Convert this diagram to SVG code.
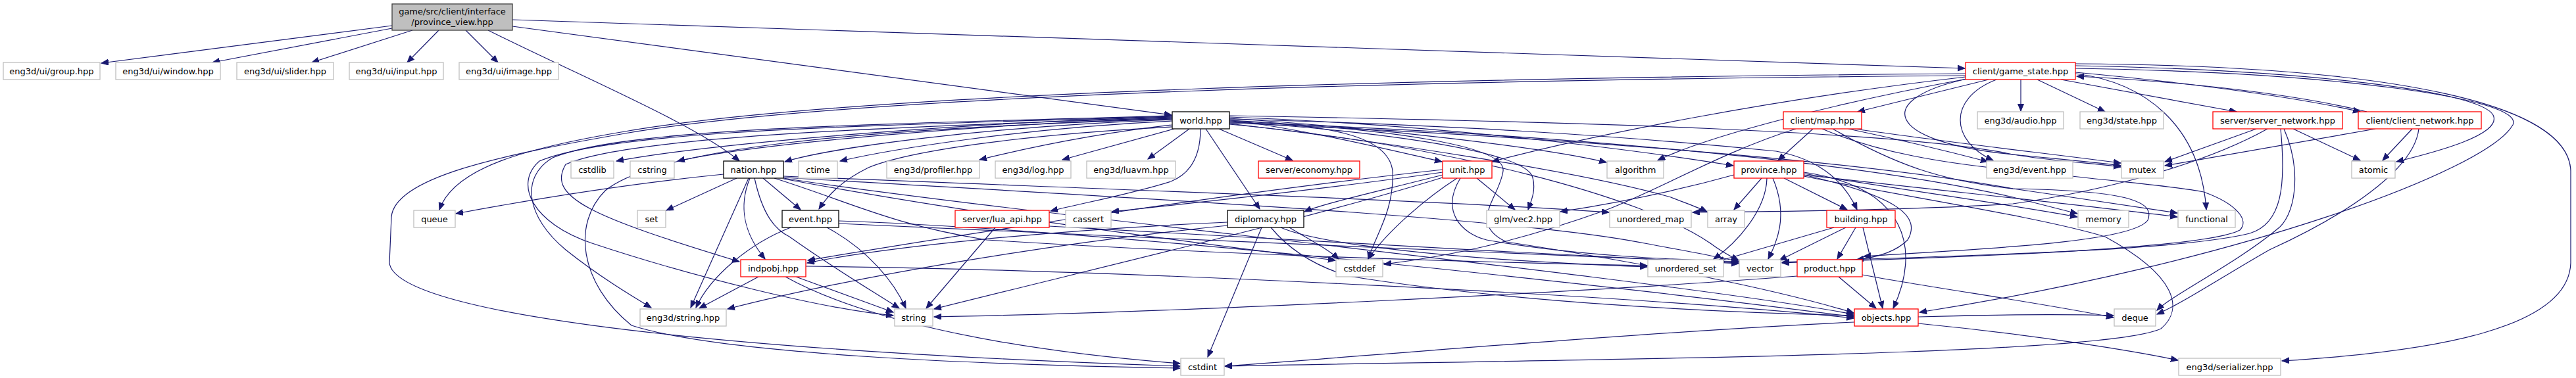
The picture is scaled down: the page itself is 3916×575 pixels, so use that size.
<svg xmlns="http://www.w3.org/2000/svg" width="3916" height="575" viewBox="0 0 3916 575">
<style>
.n rect{fill:#fff;stroke:#bfbfbf;stroke-width:1.3}
.n.b rect{stroke:#000}
.n.r rect{stroke:#ff0000}
.n.m rect{fill:#bfbfbf;stroke:#404040}
.n text{font-family:"DejaVu Sans",sans-serif;font-size:13px;text-anchor:middle;fill:#000}
#edges path{fill:none;stroke:#191970;stroke-width:1.2;marker-end:url(#a)}
</style>
<defs>
<marker id="a" markerUnits="userSpaceOnUse" markerWidth="13" markerHeight="10" refX="11" refY="4.5" orient="auto">
<path d="M0,0 L11,4.5 L0,9 z" fill="#191970" stroke="#191970" stroke-width="1"/>
</marker>
</defs>
<rect width="3916" height="575" fill="#fff"/>
<g id="edges">
<path d="M596,39 L154,96"/>
<path d="M596,43 L323,95"/>
<path d="M627,46 L474,95"/>
<path d="M667,46 L619,95"/>
<path d="M708,46 L757,95"/>
<path d="M742,46 C880,115 1060,190 1124,245"/>
<path d="M779,40 L1781,175"/>
<path d="M779,30 L2987,104"/>
<path d="M2988,112 C2200,118 1300,140 950,200 C800,225 690,255 668,319"/>
<path d="M2988,115 C2200,121 1300,143 950,203 C760,236 600,270 595,330 L592,400 C600,470 1000,530 1794,557"/>
<path d="M3023,121 L2824,170"/>
<path d="M3072,121 L3072,169"/>
<path d="M3097,121 L3200,170"/>
<path d="M3133,121 L3400,170"/>
<path d="M3155,110 C3350,128 3500,150 3588,170"/>
<path d="M3598,170 C3500,146 3350,126 3157,116"/>
<path d="M3155,100 C3500,106 3770,138 3790,175 C3805,205 3700,232 3643,246"/>
<path d="M3155,104 C3550,110 3840,150 3820,190 C3780,260 3400,400 2918,475"/>
<path d="M3155,97 C3650,100 3905,160 3908,260 L3908,400 C3905,500 3700,535 3469,549"/>
<path d="M3155,112 C3260,125 3345,190 3354,319"/>
<path d="M2990,120 C2850,150 2860,215 3060,235 C3130,242 3180,246 3224,252"/>
<path d="M3035,121 C2960,150 2965,215 3030,244"/>
<path d="M2988,117 C2700,150 2420,205 2268,246"/>
<path d="M2990,120 C2800,155 2600,205 2520,244"/>
<path d="M3430,196 L3291,246"/>
<path d="M3486,196 L3588,244"/>
<path d="M3472,196 C3500,260 3490,330 3460,350 C3400,400 3300,450 3279,472"/>
<path d="M3467,196 C3475,280 3470,340 3420,355 C3300,385 2900,390 2709,399"/>
<path d="M3447,196 C3350,250 3200,290 3060,310 C2900,320 2700,322 2573,323"/>
<path d="M3611,196 L3291,252"/>
<path d="M3667,196 L3622,244"/>
<path d="M3677,196 C3670,260 3560,330 3450,380 C3380,420 3320,460 3279,478"/>
<path d="M2756,196 L2703,244"/>
<path d="M2810,196 C2900,215 2980,235 3022,246"/>
<path d="M2820,196 C2950,215 3100,232 3224,248"/>
<path d="M2786,196 C2880,250 2950,275 3060,287 C3250,290 3275,310 3265,335 C3240,370 3000,379 2833,390"/>
<path d="M2770,196 C2850,230 2950,250 3100,262 C3200,275 3300,282 3350,292 C3400,310 3420,335 3405,350 C3350,380 2950,392 2709,400"/>
<path d="M2730,196 C2620,230 2520,290 2440,320 C2300,370 2200,390 2104,402"/>
<path d="M1782,178 C1500,185 1100,215 937,245"/>
<path d="M1782,180 C1500,188 1150,218 1030,245"/>
<path d="M1782,182 C1500,192 1260,225 1193,246"/>
<path d="M1782,184 C1550,195 1350,228 1277,245"/>
<path d="M1782,190 C1650,205 1550,228 1489,243"/>
<path d="M1785,196 L1615,243"/>
<path d="M1808,196 L1745,242"/>
<path d="M1853,196 L1965,244"/>
<path d="M1833,196 L1915,318"/>
<path d="M1825,196 C1825,230 1815,262 1780,276 C1720,295 1650,308 1597,321"/>
<path d="M1782,193 C1550,205 1380,230 1320,255 C1280,275 1260,295 1245,318"/>
<path d="M1782,176 C1300,190 950,195 840,240 C790,270 800,330 860,380 C910,420 960,450 990,468"/>
<path d="M1782,177 C1300,192 930,198 820,245 C780,280 810,340 900,370 C1050,420 1250,470 1358,480"/>
<path d="M1782,179 C1300,194 950,210 860,250 C830,300 900,330 1124,398"/>
<path d="M1782,181 C1300,196 1000,225 920,290 C870,340 880,430 960,495 C1100,540 1500,555 1794,560"/>
<path d="M1869,182 C2000,200 2120,230 2192,246"/>
<path d="M1869,180 C2100,195 2350,225 2442,247"/>
<path d="M1869,178 C2200,190 2500,230 2635,252"/>
<path d="M1869,185 C2100,200 2320,230 2330,270 C2335,290 2328,305 2323,319"/>
<path d="M1869,188 C2100,215 2400,260 2540,300 C2560,308 2580,315 2595,322"/>
<path d="M1869,181 C2200,190 2450,205 2700,230 C2780,245 2810,290 2823,319"/>
<path d="M1869,186 C2300,200 2800,240 3060,300 C3100,310 3130,318 3158,325"/>
<path d="M1869,187 C2300,205 2800,240 3060,287 C3150,300 3250,315 3310,324"/>
<path d="M1869,176 C2400,185 2900,200 3060,235 C3120,245 3180,248 3224,254"/>
<path d="M1869,184 C2000,190 2110,200 2117,260 C2120,320 2090,360 2080,394"/>
<path d="M1869,189 C2200,220 2500,300 2600,370 C2620,385 2635,392 2643,396"/>
<path d="M1869,183 C2100,195 2290,220 2285,260 C2280,300 2230,340 2290,368 C2500,400 2700,440 2818,476"/>
<path d="M1100,265 C950,280 800,305 693,325"/>
<path d="M1120,271 L1013,320"/>
<path d="M1138,271 L1050,468"/>
<path d="M1140,271 C1120,320 1135,360 1163,394"/>
<path d="M1147,271 C1160,330 1180,350 1200,360 C1270,410 1330,445 1367,469"/>
<path d="M1160,271 L1217,319"/>
<path d="M1191,268 C1600,285 2200,305 2446,323"/>
<path d="M1177,271 C1300,310 1350,340 1500,365 C1900,390 2300,400 2504,404"/>
<path d="M1191,271 C1500,320 2500,420 2818,478"/>
<path d="M1191,270 C1700,300 2300,330 2500,370 C2580,385 2620,392 2643,398"/>
<path d="M1191,272 C1500,330 1900,380 2030,396"/>
<path d="M1202,346 C1140,370 1080,420 1058,468"/>
<path d="M1257,346 C1320,380 1360,430 1377,469"/>
<path d="M1275,336 C1700,350 2500,440 2818,482"/>
<path d="M1275,340 C1700,360 2400,390 2643,400"/>
<path d="M1153,421 L1063,469"/>
<path d="M1210,421 L1358,475"/>
<path d="M1194,421 C1300,480 1500,530 1794,553"/>
<path d="M1225,405 C1700,410 2500,450 2818,484"/>
<path d="M1513,346 L1408,469"/>
<path d="M1595,344 C1900,360 2300,385 2643,401"/>
<path d="M1918,346 L1836,543"/>
<path d="M1866,338 C1600,350 1350,375 1227,400"/>
<path d="M1866,343 C1600,370 1300,420 1106,470"/>
<path d="M1932,346 C1960,380 2000,405 2050,420 C2300,460 2600,475 2818,480"/>
<path d="M1947,346 C2000,370 2200,395 2504,406"/>
<path d="M1960,346 C2000,370 2020,380 2035,394"/>
<path d="M2245,271 L2303,319"/>
<path d="M2215,271 C2170,300 2110,350 2080,394"/>
<path d="M2193,258 C1900,290 1500,350 1228,396"/>
<path d="M2193,262 C2000,290 1800,310 1690,322"/>
<path d="M2220,271 C2190,320 2220,355 2260,365 C2400,390 2550,395 2643,398"/>
<path d="M2193,266 C2100,290 2010,310 1983,322"/>
<path d="M2193,270 C2000,330 1700,400 1420,470"/>
<path d="M2678,271 L2636,319"/>
<path d="M2686,271 C2685,320 2640,370 2605,394"/>
<path d="M2695,271 C2720,330 2700,370 2688,394"/>
<path d="M2712,271 L2808,319"/>
<path d="M2742,262 C2900,285 2920,380 2878,469"/>
<path d="M2742,266 C2890,300 2920,330 2900,365 C2880,385 2850,392 2822,395"/>
<path d="M2742,268 C2900,300 3100,330 3200,360 C3310,420 3320,470 3285,500 C3200,540 2500,545 1862,557"/>
<path d="M2636,266 C2550,290 2450,310 2372,322"/>
<path d="M2742,264 C2900,290 3050,310 3158,330"/>
<path d="M2742,266 C2950,290 3150,310 3310,330"/>
<path d="M2806,346 L2705,396"/>
<path d="M2788,346 L2610,398"/>
<path d="M2821,346 L2793,394"/>
<path d="M2832,346 L2862,469"/>
<path d="M2795,421 L2852,469"/>
<path d="M2732,420 C2400,445 1800,475 1420,482"/>
<path d="M2831,418 C2950,440 3100,460 3213,483"/>
<path d="M2819,490 C2500,505 2100,540 1862,557"/>
<path d="M2916,492 C3100,510 3250,535 3311,548"/>
<path d="M2916,482 C3050,478 3150,478 3213,480"/>
</g>
<g id="nodes">
<g id="n-main" class="n m"><rect x="596" y="6" width="183" height="40"/><text x="687.5" y="22">game/src/client/interface</text><text x="687.5" y="38">/province_view.hpp</text></g>
<g id="n-group" class="n"><rect x="5" y="95" width="147" height="26"/><text x="78.5" y="112.5">eng3d/ui/group.hpp</text></g>
<g id="n-window" class="n"><rect x="176" y="95" width="159" height="26"/><text x="255.5" y="112.5">eng3d/ui/window.hpp</text></g>
<g id="n-slider" class="n"><rect x="360" y="95" width="147" height="26"/><text x="433.5" y="112.5">eng3d/ui/slider.hpp</text></g>
<g id="n-input" class="n"><rect x="531" y="95" width="143" height="26"/><text x="602.5" y="112.5">eng3d/ui/input.hpp</text></g>
<g id="n-image" class="n"><rect x="698" y="95" width="151" height="26"/><text x="773.5" y="112.5">eng3d/ui/image.hpp</text></g>
<g id="n-game_state" class="n r"><rect x="2988" y="95" width="167" height="26"/><text x="3071.5" y="112.5">client/game_state.hpp</text></g>
<g id="n-world" class="n b"><rect x="1782" y="170" width="87" height="26"/><text x="1825.5" y="187.5">world.hpp</text></g>
<g id="n-map" class="n r"><rect x="2711" y="170" width="119" height="26"/><text x="2770.5" y="187.5">client/map.hpp</text></g>
<g id="n-audio" class="n"><rect x="3006" y="170" width="131" height="26"/><text x="3071.5" y="187.5">eng3d/audio.hpp</text></g>
<g id="n-state" class="n"><rect x="3162" y="170" width="127" height="26"/><text x="3225.5" y="187.5">eng3d/state.hpp</text></g>
<g id="n-server_network" class="n r"><rect x="3364" y="170" width="197" height="26"/><text x="3462.5" y="187.5">server/server_network.hpp</text></g>
<g id="n-client_network" class="n r"><rect x="3585" y="170" width="187" height="26"/><text x="3678.5" y="187.5">client/client_network.hpp</text></g>
<g id="n-cstdlib" class="n"><rect x="868" y="245" width="65" height="26"/><text x="900.5" y="262.5">cstdlib</text></g>
<g id="n-cstring" class="n"><rect x="958" y="245" width="67" height="26"/><text x="991.5" y="262.5">cstring</text></g>
<g id="n-nation" class="n b"><rect x="1100" y="245" width="91" height="26"/><text x="1145.5" y="262.5">nation.hpp</text></g>
<g id="n-ctime" class="n"><rect x="1214" y="245" width="59" height="26"/><text x="1243.5" y="262.5">ctime</text></g>
<g id="n-profiler" class="n"><rect x="1348" y="245" width="141" height="26"/><text x="1418.5" y="262.5">eng3d/profiler.hpp</text></g>
<g id="n-log" class="n"><rect x="1513" y="245" width="115" height="26"/><text x="1570.5" y="262.5">eng3d/log.hpp</text></g>
<g id="n-luavm" class="n"><rect x="1652" y="245" width="135" height="26"/><text x="1719.5" y="262.5">eng3d/luavm.hpp</text></g>
<g id="n-economy" class="n r"><rect x="1913" y="245" width="154" height="26"/><text x="1990" y="262.5">server/economy.hpp</text></g>
<g id="n-unit" class="n r"><rect x="2193" y="245" width="75" height="26"/><text x="2230.5" y="262.5">unit.hpp</text></g>
<g id="n-algorithm" class="n"><rect x="2443" y="245" width="86" height="26"/><text x="2486" y="262.5">algorithm</text></g>
<g id="n-province" class="n r"><rect x="2636" y="245" width="106" height="26"/><text x="2689" y="262.5">province.hpp</text></g>
<g id="n-event3d" class="n"><rect x="3020" y="245" width="131" height="26"/><text x="3085.5" y="262.5">eng3d/event.hpp</text></g>
<g id="n-mutex" class="n"><rect x="3225" y="245" width="64" height="26"/><text x="3257" y="262.5">mutex</text></g>
<g id="n-atomic" class="n"><rect x="3575" y="245" width="66" height="26"/><text x="3608" y="262.5">atomic</text></g>
<g id="n-queue" class="n"><rect x="629" y="320" width="63" height="26"/><text x="660.5" y="337.5">queue</text></g>
<g id="n-set" class="n"><rect x="969" y="320" width="43" height="26"/><text x="990.5" y="337.5">set</text></g>
<g id="n-event" class="n b"><rect x="1189" y="320" width="86" height="26"/><text x="1232" y="337.5">event.hpp</text></g>
<g id="n-lua_api" class="n r"><rect x="1452" y="320" width="143" height="26"/><text x="1523.5" y="337.5">server/lua_api.hpp</text></g>
<g id="n-cassert" class="n"><rect x="1620" y="320" width="69" height="26"/><text x="1654.5" y="337.5">cassert</text></g>
<g id="n-diplomacy" class="n b"><rect x="1866" y="320" width="116" height="26"/><text x="1924" y="337.5">diplomacy.hpp</text></g>
<g id="n-vec2" class="n"><rect x="2260" y="320" width="111" height="26"/><text x="2315.5" y="337.5">glm/vec2.hpp</text></g>
<g id="n-unordered_map" class="n"><rect x="2447" y="320" width="124" height="26"/><text x="2509" y="337.5">unordered_map</text></g>
<g id="n-array" class="n"><rect x="2596" y="320" width="56" height="26"/><text x="2624" y="337.5">array</text></g>
<g id="n-building" class="n r"><rect x="2777" y="320" width="104" height="26"/><text x="2829" y="337.5">building.hpp</text></g>
<g id="n-memory" class="n"><rect x="3159" y="320" width="77" height="26"/><text x="3197.5" y="337.5">memory</text></g>
<g id="n-functional" class="n"><rect x="3311" y="320" width="87" height="26"/><text x="3354.5" y="337.5">functional</text></g>
<g id="n-indpobj" class="n r"><rect x="1126" y="395" width="99" height="26"/><text x="1175.5" y="412.5">indpobj.hpp</text></g>
<g id="n-cstddef" class="n"><rect x="2031" y="395" width="71" height="26"/><text x="2066.5" y="412.5">cstddef</text></g>
<g id="n-unordered_set" class="n"><rect x="2505" y="395" width="115" height="26"/><text x="2562.5" y="412.5">unordered_set</text></g>
<g id="n-vector" class="n"><rect x="2644" y="395" width="63" height="26"/><text x="2675.5" y="412.5">vector</text></g>
<g id="n-product" class="n r"><rect x="2732" y="395" width="99" height="26"/><text x="2781.5" y="412.5">product.hpp</text></g>
<g id="n-string3d" class="n"><rect x="973" y="470" width="131" height="26"/><text x="1038.5" y="487.5">eng3d/string.hpp</text></g>
<g id="n-string" class="n"><rect x="1360" y="470" width="58" height="26"/><text x="1389" y="487.5">string</text></g>
<g id="n-objects" class="n r"><rect x="2819" y="470" width="97" height="26"/><text x="2867.5" y="487.5">objects.hpp</text></g>
<g id="n-deque" class="n"><rect x="3214" y="470" width="63" height="26"/><text x="3245.5" y="487.5">deque</text></g>
<g id="n-cstdint" class="n"><rect x="1795" y="545" width="66" height="26"/><text x="1828" y="562.5">cstdint</text></g>
<g id="n-serializer" class="n"><rect x="3312" y="545" width="155" height="26"/><text x="3389.5" y="562.5">eng3d/serializer.hpp</text></g>
</g>
</svg>
